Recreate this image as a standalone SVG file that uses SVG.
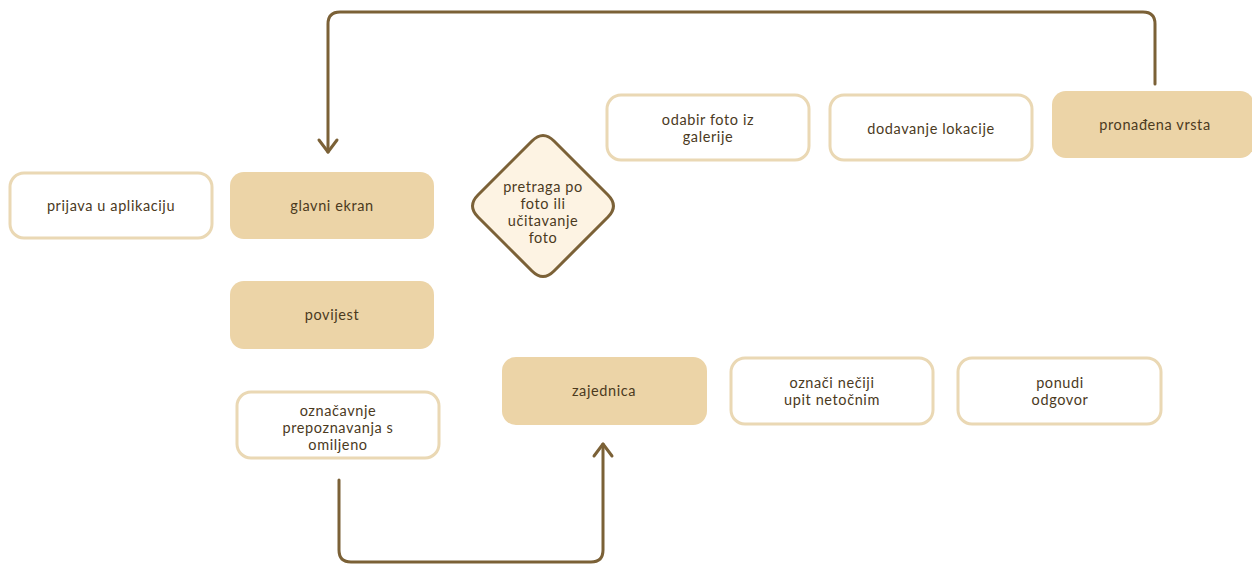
<svg xmlns="http://www.w3.org/2000/svg" width="1252" height="565" viewBox="0 0 1252 565">
<style>
.w{fill:#ffffff;stroke:#ead8b4;stroke-width:3}
.t{fill:#ecd4a7;stroke:none}
.d{fill:#fdf3e3;stroke:#7b6137;stroke-width:3;stroke-linejoin:round}
text{font-family:"Lato","Open Sans",sans-serif;font-size:14.5px;letter-spacing:0.6px;fill:#4b3a1e;text-anchor:middle;dominant-baseline:central}
.c{fill:none;stroke:#7b6137;stroke-width:3;stroke-linecap:round;stroke-linejoin:round}
</style>
<rect width="1252" height="565" fill="#ffffff"/>
<g id="connectors">
<path class="c" d="M1155,84 V24 Q1155,12 1143,12 H340 Q328,12 328,24 V152"/>
<path class="c" d="M319,140 L328,152 L337,140"/>
<path class="c" d="M339,480 V550 Q339,562 351,562 H591 Q603,562 603,550 V444"/>
<path class="c" d="M594,456 L603,444 L612,456"/>
</g>
<g id="n1"><rect class="w" x="10" y="173" width="202" height="65" rx="14"/><text x="111" y="205">prijava u aplikaciju</text></g>
<g id="n2"><rect class="t" x="230" y="172" width="204" height="67" rx="14"/><text x="332" y="205">glavni ekran</text></g>
<g id="n3"><rect class="t" x="230" y="281" width="204" height="68" rx="14"/><text x="332" y="314">povijest</text></g>
<g id="n4"><rect class="w" x="237" y="392" width="202" height="66" rx="14"/><text x="338" y="410">označavnje</text><text x="338" y="427">prepoznavanja s</text><text x="338" y="444">omiljeno</text></g>
<g id="n5"><path class="d" d="M532,141 Q543,130 554,141 L608,195 Q619,206 608,217 L554,271 Q543,282 532,271 L478,217 Q467,206 478,195 Z"/><text x="543" y="186">pretraga po</text><text x="543" y="203">foto ili</text><text x="543" y="220">učitavanje</text><text x="543" y="237">foto</text></g>
<g id="n6"><rect class="w" x="607" y="95" width="202" height="65" rx="14"/><text x="708" y="119">odabir foto iz</text><text x="708" y="136">galerije</text></g>
<g id="n7"><rect class="w" x="830" y="95" width="202" height="65" rx="14"/><text x="931" y="128">dodavanje lokacije</text></g>
<g id="n8"><rect class="t" x="1052" y="91" width="202" height="67" rx="14"/><text x="1155" y="124">pronađena vrsta</text></g>
<g id="n9"><rect class="t" x="502" y="357" width="205" height="68" rx="14"/><text x="604" y="390">zajednica</text></g>
<g id="n10"><rect class="w" x="731" y="358" width="202" height="66" rx="14"/><text x="832" y="382">označi nečiji</text><text x="832" y="399">upit netočnim</text></g>
<g id="n11"><rect class="w" x="958" y="358" width="203" height="66" rx="14"/><text x="1060" y="382">ponudi</text><text x="1060" y="399">odgovor</text></g>
</svg>
